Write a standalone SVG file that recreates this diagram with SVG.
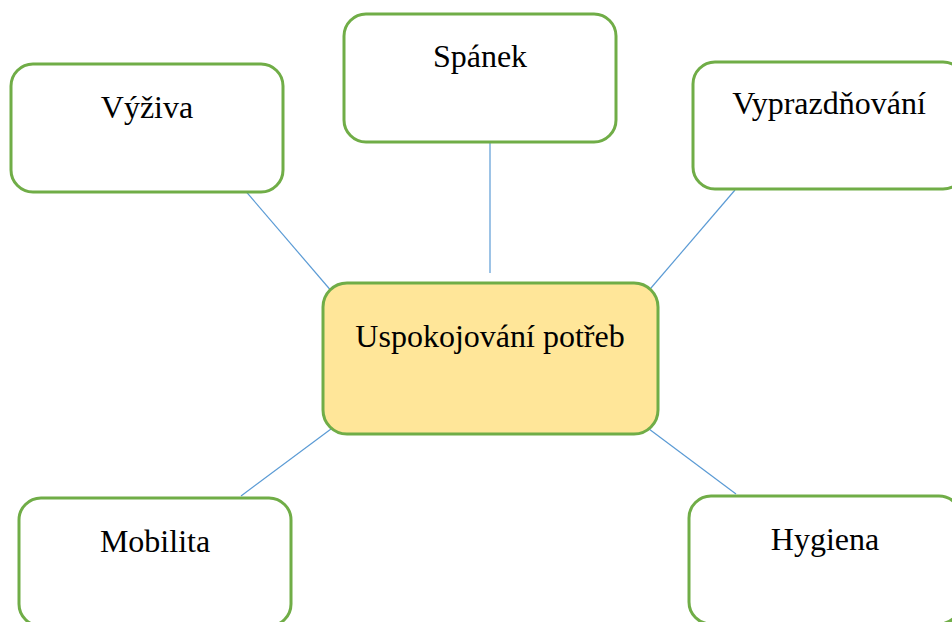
<svg xmlns="http://www.w3.org/2000/svg" width="952" height="622" viewBox="0 0 952 622">
<style>
.box{fill:#ffffff;stroke:#70AD47;stroke-width:3}
.main{fill:#FFE699;stroke:#70AD47;stroke-width:3}
.lbl{font-family:"Liberation Serif","Times New Roman",serif;font-size:32px;fill:#000;text-anchor:middle}
.con{stroke:#5B9BD5;stroke-width:1.2;fill:none}
</style>
<rect width="952" height="622" fill="#ffffff"/>
<g id="connectors">
<line class="con" x1="243" y1="188" x2="333" y2="293"/>
<line class="con" x1="490" y1="140" x2="490" y2="273"/>
<line class="con" x1="735" y1="190" x2="645" y2="295"/>
<line class="con" x1="331" y1="429" x2="241" y2="496"/>
<line class="con" x1="645" y1="426" x2="736" y2="494"/>
</g>
<g id="vyziva">
<rect class="box" x="11" y="64" width="272" height="128" rx="22"/>
<text class="lbl" x="147" y="118">Výživa</text>
</g>
<g id="spanek">
<rect class="box" x="344" y="14" width="272" height="128" rx="22"/>
<text class="lbl" x="480" y="67">Spánek</text>
</g>
<g id="vyprazdnovani">
<rect class="box" x="693" y="62" width="272" height="127" rx="22"/>
<text class="lbl" x="829" y="114">Vyprazdňování</text>
</g>
<g id="uspokojovani">
<rect class="main" x="323" y="283" width="335" height="151" rx="24"/>
<text class="lbl" x="490" y="347">Uspokojování potřeb</text>
</g>
<g id="mobilita">
<rect class="box" x="19" y="498" width="272" height="128" rx="22"/>
<text class="lbl" x="155" y="552">Mobilita</text>
</g>
<g id="hygiena">
<rect class="box" x="689" y="496" width="272" height="128" rx="22"/>
<text class="lbl" x="825" y="550">Hygiena</text>
</g>
</svg>
